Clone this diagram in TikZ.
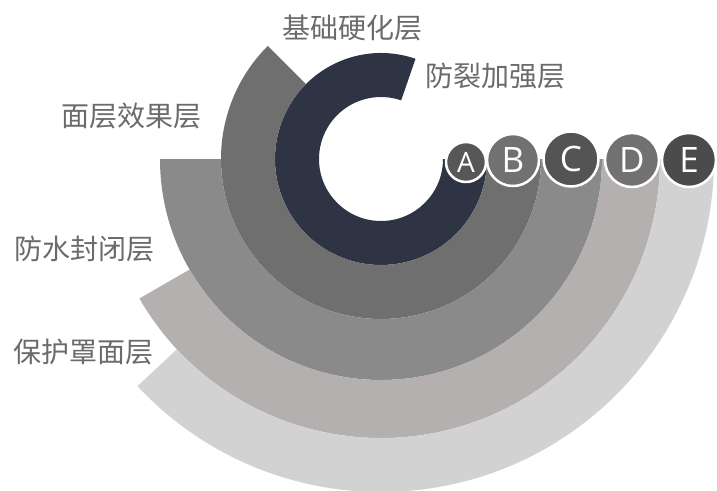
\documentclass[tikz,border=0pt]{standalone}
\usepackage{fontspec}
\setmainfont{Noto Sans CJK SC}
\newfontfamily\letterfont{Open Sans}
\definecolor{navy}{HTML}{2E3444}
\definecolor{bandB}{HTML}{6F6F6F}
\definecolor{bandC}{HTML}{898A89}
\definecolor{bandD}{HTML}{B3B0AF}
\definecolor{bandE}{HTML}{D3D2D3}
\definecolor{dotA}{HTML}{575757}
\definecolor{dotB}{HTML}{717171}
\definecolor{dotC}{HTML}{545454}
\definecolor{dotD}{HTML}{717171}
\definecolor{dotE}{HTML}{4B4B4B}
\definecolor{txt}{HTML}{6B6B6B}
\begin{document}
\begin{tikzpicture}[x=1pt,y=1pt,line join=round,
	lbl/.style={text=txt,inner sep=0pt,font=\fontsize{28}{28}\selectfont},
	badge/.style={circle,draw=white,line width=2.5pt,inner sep=0pt,text=white,font=\letterfont\fontsize{35}{35}\selectfont}]
		\useasboundingbox (-381,-331) rectangle (336,159);
		\coordinate (O) at (0,0);
		\fill[navy] (O) ++(71:106) arc[start angle=71,end angle=360,radius=106] -- (0:62) arc[start angle=360,end angle=71,radius=62] -- cycle;
		\fill[bandB] (O) ++(135:160) arc[start angle=135,end angle=360,radius=160] -- (0:106) arc[start angle=360,end angle=135,radius=106] -- cycle;
		\fill[bandC] (O) ++(180:221) arc[start angle=180,end angle=360,radius=221] -- (0:160) arc[start angle=360,end angle=180,radius=160] -- cycle;
		\fill[bandD] (O) ++(210:279) arc[start angle=210,end angle=360,radius=279] -- (0:221) arc[start angle=360,end angle=210,radius=221] -- cycle;
		\fill[bandE] (O) ++(223:333) arc[start angle=223,end angle=360,radius=333] -- (0:279) arc[start angle=360,end angle=223,radius=279] -- cycle;
		\node[badge,fill=dotA,minimum size=40pt,font=\letterfont\fontsize{28}{28}\selectfont] (A) at (85,-3) {A};
		\node[badge,fill=dotB,minimum size=52pt] (B) at (132,-1) {B};
		\node[badge,fill=dotC,minimum size=55pt] (C) at (190,0) {C};
		\node[badge,fill=dotD,minimum size=54pt] (D) at (251,-1) {D};
		\node[badge,fill=dotE,minimum size=54pt] (E) at (308,-1) {E};
		\node[lbl] (jichu) at (-28.5,131) {基础硬化层};
		\node[lbl] (fanglie) at (114.5,83) {防裂加强层};
		\node[lbl] (mianceng) at (-249,43) {面层效果层};
		\node[lbl] (fangshui) at (-296,-90) {防水封闭层};
		\node[lbl] (baohu) at (-297,-193) {保护罩面层};
\end{tikzpicture}
\end{document}
